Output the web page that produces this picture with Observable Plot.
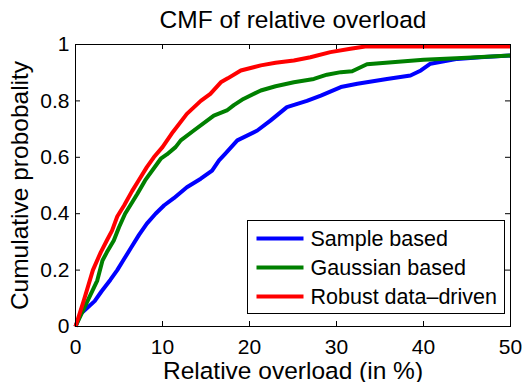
<!DOCTYPE html>
<html><head><meta charset="utf-8">
<script src="https://cdn.jsdelivr.net/npm/d3@7"></script>
<script src="https://cdn.jsdelivr.net/npm/@observablehq/plot@0.6"></script>
<style>
html,body{margin:0;padding:0;background:#fff;}
#chart{position:relative;width:524px;height:382px;font-family:"Liberation Sans",Arial,sans-serif;}
#chart svg{display:block;}
#legend{position:absolute;left:0;top:0;pointer-events:none;}
</style></head><body><div id="chart"></div>
<script>
// ---- data ----
const seriesNames = ["Sample based", "Gaussian based", "Robust data\u2013driven"];
const seriesColors = ["#0000ff", "#008000", "#ff0000"];

const sampleX = [0, 0.6, 1.3, 2.2, 3.0, 4.0, 4.8, 5.6, 6.4, 7.3, 8.2, 9.2, 10.2, 11.3, 12.8, 14.4, 15.7, 16.5, 17.2, 18.6, 20.9, 22.4, 24.3, 26.6, 28.2, 30.5, 32.4, 35.8, 38.5, 39.7, 40.8, 43.9, 46.5, 50];
const sampleY = [0, 0.045, 0.065, 0.09, 0.125, 0.165, 0.2, 0.24, 0.28, 0.325, 0.365, 0.40, 0.43, 0.455, 0.494, 0.524, 0.553, 0.589, 0.612, 0.66, 0.695, 0.73, 0.778, 0.80, 0.819, 0.849, 0.861, 0.878, 0.89, 0.908, 0.932, 0.949, 0.955, 0.961];

const gaussX = [0, 1.5, 2.5, 3.1, 3.6, 4.4, 5.0, 5.7, 7.1, 8.0, 9.8, 10.5, 11.5, 12.1, 13.6, 15.9, 17.4, 18.2, 19.3, 21.3, 23.0, 25.1, 27.4, 28.9, 30.5, 31.8, 33.5, 40, 45, 50];
const gaussY = [0, 0.098, 0.163, 0.234, 0.263, 0.305, 0.352, 0.40, 0.47, 0.518, 0.595, 0.61, 0.636, 0.66, 0.695, 0.748, 0.766, 0.785, 0.807, 0.837, 0.852, 0.866, 0.878, 0.893, 0.902, 0.905, 0.93, 0.946, 0.953, 0.961];

const robustX = [0, 0.95, 2.0, 2.9, 3.6, 4.2, 4.8, 5.6, 6.5, 7.2, 8.2, 9.0, 10.0, 11.2, 12.8, 14.4, 15.5, 16.7, 17.5, 19.0, 21.3, 23.0, 25.1, 27.0, 29.3, 31.6, 33.3, 50];
const robustY = [0, 0.092, 0.2, 0.263, 0.305, 0.34, 0.39, 0.43, 0.48, 0.515, 0.565, 0.60, 0.636, 0.69, 0.754, 0.80, 0.825, 0.866, 0.88, 0.908, 0.926, 0.935, 0.943, 0.955, 0.973, 0.985, 0.993, 0.993];

const xTicks = [0, 10, 20, 30, 40, 50];
const xTickLabels = ["0", "10", "20", "30", "40", "50"];
const yTicks = [0, 0.2, 0.4, 0.6, 0.8, 1];
const yTickLabels = ["0", "0.2", "0.4", "0.6", "0.8", "1"];

const titleText = "CMF of relative overload";
const xLabelText = "Relative overload (in %)";
const yLabelText = "Cumulative probobality";

// ---- build table ----
const rows = [];
[[sampleX, sampleY], [gaussX, gaussY], [robustX, robustY]].forEach(([xs, ys], i) => {
  xs.forEach((x, j) => rows.push({x, y: ys[j], series: seriesNames[i]}));
});

const W = 524, H = 382, mL = 75, mR = 14, mT = 44, mB = 56;
const frameH = H - mT - mB;
const tickLen = 5;
const font = "Liberation Sans, Arial, sans-serif";

const plot = Plot.plot({
  width: W, height: H,
  marginLeft: mL, marginRight: mR, marginTop: mT, marginBottom: mB,
  style: {fontFamily: font, fontSize: "21px", background: "#fff", color: "#000", overflow: "visible"},
  x: {domain: [0, 50]},
  y: {domain: [0, 1]},
  color: {domain: seriesNames, range: seriesColors},
  marks: [
    Plot.line(rows, {x: "x", y: "y", z: "series", stroke: "series", strokeWidth: 4, strokeLinecap: "butt", strokeLinejoin: "round"}),
    Plot.frame({stroke: "#000", strokeWidth: 1}),
    // inward ticks on all four sides
    Plot.ruleX(xTicks, {x: d => d, insetTop: frameH - tickLen, stroke: "#000"}),
    Plot.ruleX(xTicks, {x: d => d, insetBottom: frameH - tickLen, stroke: "#000"}),
    Plot.ruleY(yTicks, {y: d => d, insetRight: (W - mL - mR) - tickLen, stroke: "#000"}),
    Plot.ruleY(yTicks, {y: d => d, insetLeft: (W - mL - mR) - tickLen, stroke: "#000"}),
    Plot.axisX({anchor: "bottom", ticks: xTicks, tickSize: 0, tickPadding: 13, fontSize: 21,
      tickFormat: d => xTickLabels[xTicks.indexOf(d)], label: null}),
    Plot.axisY({anchor: "left", ticks: yTicks, tickSize: 0, tickPadding: 6, fontSize: 21,
      tickFormat: d => yTickLabels[yTicks.indexOf(d)], label: null}),
    Plot.text([titleText], {text: d => d, frameAnchor: "top", dy: -17, lineAnchor: "bottom", fontSize: 24.5, fill: "#000"}),
    Plot.text([xLabelText], {text: d => d, frameAnchor: "bottom", dy: 52, lineAnchor: "bottom", fontSize: 24.5, fill: "#000"}),
    Plot.text([yLabelText], {text: d => d, frameAnchor: "left", dx: -48, rotate: -90, textAnchor: "middle", lineAnchor: "bottom", fontSize: 24.5, fill: "#000"})
  ]
});
document.getElementById("chart").appendChild(plot);

// ---- legend overlay ----
const lg = d3.select("#chart").append("svg").attr("id", "legend")
  .attr("width", W).attr("height", H);
const box = {x: 247.5, y: 220.5, w: 257, h: 93};
lg.append("rect").attr("x", box.x).attr("y", box.y).attr("width", box.w).attr("height", box.h)
  .attr("fill", "#fff").attr("stroke", "#000").attr("stroke-width", 1);
seriesNames.forEach((name, i) => {
  const cy = box.y + 18 + i * 29;
  lg.append("line").attr("x1", box.x + 9).attr("x2", box.x + 56).attr("y1", cy).attr("y2", cy)
    .attr("stroke", seriesColors[i]).attr("stroke-width", 4);
  lg.append("text").attr("x", box.x + 63).attr("y", cy + 7.5)
    .attr("font-family", font).attr("font-size", 21.5).attr("fill", "#000").text(name);
});
</script></body></html>
